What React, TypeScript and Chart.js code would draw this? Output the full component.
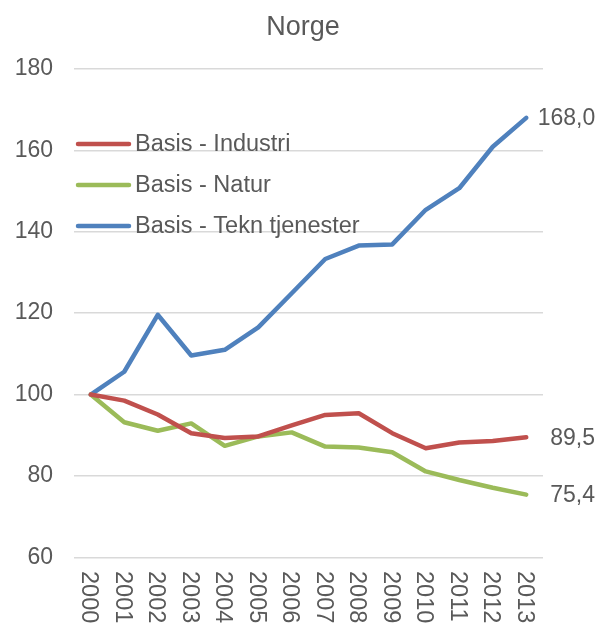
import React, { useEffect, useRef } from "react";
import { Chart, registerables } from "chart.js";

Chart.register(...registerables);

const TITLE = "Norge";
const years = ["2000", "2001", "2002", "2003", "2004", "2005", "2006", "2007", "2008", "2009", "2010", "2011", "2012", "2013"];
const seriesNames = ["Basis - Industri", "Basis - Natur", "Basis - Tekn tjenester"];
const industri = [100, 98.5, 95.1, 90.5, 89.3, 89.7, 92.4, 95.0, 95.4, 90.5, 86.8, 88.2, 88.6, 89.5];
const natur = [100, 93.2, 91.1, 92.9, 87.4, 89.7, 90.7, 87.2, 87.0, 85.8, 81.1, 79.0, 77.1, 75.4];
const tekn = [100, 105.6, 119.6, 109.6, 111.0, 116.5, 124.9, 133.3, 136.6, 136.9, 145.4, 150.7, 160.9, 168.0];
const colors = ["#C0504D", "#9BBB59", "#4F81BD"];
const endLabelOffsets = [24, 24, 11.5];

const FONT = "'Liberation Sans', Arial, sans-serif";
const TEXT = "#595959";

const customPlugin = {
  id: "custom",
  afterDraw(chart: any) {
    const ctx = chart.ctx;
    const xs = chart.scales.x;
    const ys = chart.scales.y;
    ctx.save();
    // title
    ctx.fillStyle = TEXT;
    ctx.font = `27px ${FONT}`;
    ctx.textAlign = "center";
    ctx.textBaseline = "middle";
    ctx.fillText(TITLE, 303, 28);

    // legend
    ctx.font = `23.5px ${FONT}`;
    ctx.textAlign = "left";
    chart.data.datasets.forEach((ds: any, i: number) => {
      const y = 144 + i * 41;
      ctx.strokeStyle = ds.borderColor;
      ctx.lineWidth = 4.5;
      ctx.lineCap = "round";
      ctx.beginPath();
      ctx.moveTo(78, y);
      ctx.lineTo(129, y);
      ctx.stroke();
      ctx.fillStyle = TEXT;
      ctx.textBaseline = "middle";
      ctx.fillText(ds.label, 135, y + 1);
    });

    // end labels
    ctx.font = `23px ${FONT}`;
    ctx.textBaseline = "middle";
    chart.data.datasets.forEach((ds: any, i: number) => {
      const last = ds.data.length - 1;
      const v = ds.data[last];
      const px = xs.getPixelForValue(last);
      const py = ys.getPixelForValue(v);
      ctx.fillStyle = TEXT;
      ctx.fillText(v.toFixed(1).replace(".", ","), px + endLabelOffsets[i], py + 1);
    });

    // rotated x labels
    ctx.font = `23.5px ${FONT}`;
    ctx.textAlign = "left";
    ctx.textBaseline = "alphabetic";
    years.forEach((lab, i) => {
      const x = xs.getPixelForValue(i);
      ctx.save();
      ctx.translate(x - 8.5, 571);
      ctx.rotate(Math.PI / 2);
      ctx.fillText(lab, 0, 0);
      ctx.restore();
    });
    ctx.restore();
  },
};

export default function App() {
  const ref = useRef<HTMLCanvasElement>(null);
  useEffect(() => {
    if (!ref.current) return;
    const data = [industri, natur, tekn];
    const chart = new Chart(ref.current, {
      type: "line",
      data: {
        labels: years,
        datasets: seriesNames.map((name, i) => ({
          label: name,
          data: data[i],
          borderColor: colors[i],
          backgroundColor: colors[i],
          borderWidth: 4.5,
          pointRadius: 0,
          tension: 0,
          borderCapStyle: "round",
          borderJoinStyle: "round",
          fill: false,
        })),
      },
      options: {
        responsive: false,
        animation: false,
        layout: { padding: { top: 69, right: 56, left: 0, bottom: 0 } },
        plugins: {
          legend: { display: false },
          title: { display: false },
          tooltip: { enabled: false },
        },
        scales: {
          x: {
            type: "category",
            offset: true,
            grid: { display: false, drawTicks: false },
            border: { display: false },
            ticks: { display: false },
            afterFit: (s: any) => {
              s.height = 623 - 557.3;
            },
          },
          y: {
            min: 60,
            max: 180,
            grid: { color: "#D9D9D9", lineWidth: 1.5, drawTicks: false },
            border: { display: false },
            ticks: {
              stepSize: 20,
              padding: 21,
              color: TEXT,
              font: { family: FONT, size: 23 },
            },
            afterFit: (s: any) => {
              s.width = 74;
            },
          },
        },
      },
      plugins: [customPlugin],
    } as any);
    return () => chart.destroy();
  }, []);
  return (
    <div style={{ position: "absolute", left: 0, top: 0, width: 599, height: 623 }}>
      <canvas ref={ref} width={599} height={623} style={{ display: "block" }} />
    </div>
  );
}
